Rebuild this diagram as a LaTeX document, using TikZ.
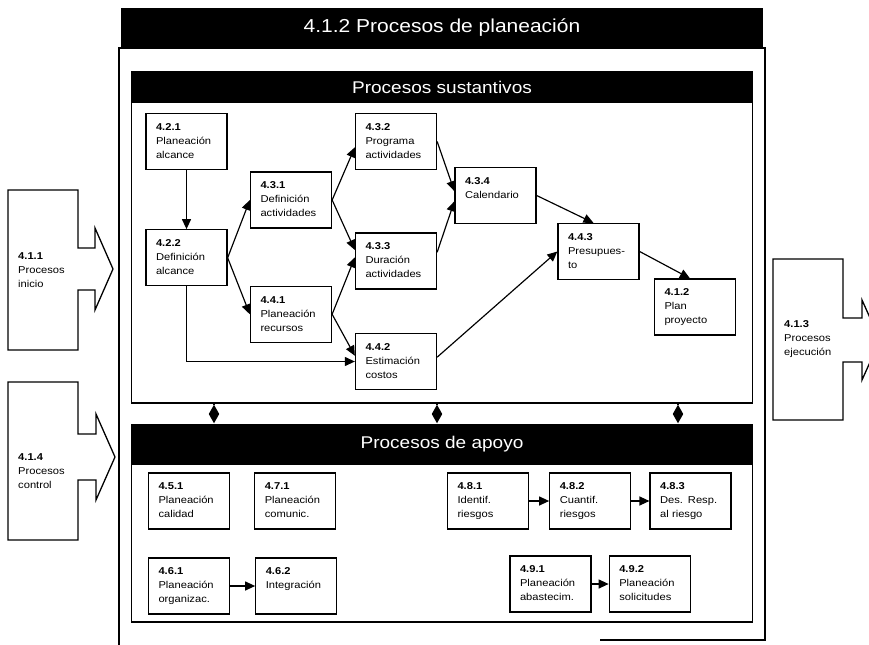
\documentclass[tikz,border=0pt]{standalone}
\usepackage{fontspec}
\setmainfont{Liberation Sans}[FakeStretch=1.12]
\usetikzlibrary{arrows.meta}
\usetikzlibrary{positioning}
\usetikzlibrary{shapes.geometric}

\newcommand{\proclbl}[3]{\strut\textbf{#1}\\\strut #2\\\strut #3}

\begin{document}
\begin{tikzpicture}
    [x=0.3mm,y=-0.3mm,
    proc/.style={rectangle,draw,line width=1.1pt,
      minimum width=24.3mm,minimum height=16.8mm,
      text width=18.3mm,inner xsep=3mm,inner ysep=0pt,
      align=left,font=\fontsize{8.5}{12}\selectfont},
    side/.style={anchor=west,align=left,inner sep=0pt,
      font=\fontsize{8.5}{12}\selectfont},
    group/.style={rectangle,draw,line width=1.1pt,inner sep=0pt,
      minimum width=186.3mm},
    header/.style={rectangle,fill=black,text=white,inner sep=0pt,
      minimum width=186.3mm,font=\fontsize{14.5}{17}\selectfont},
    flow/.style={-{Triangle[length=3mm,width=2.7mm]},line width=1pt},
    link/.style={line width=1pt},
    frame/.style={line width=1.1pt},
    bigarrow/.style={draw,line width=1.1pt,line join=miter},
    diam/.style={diamond,fill=black,inner sep=0pt,
      minimum width=3.2mm,minimum height=5.6mm}]

    \useasboundingbox (0,0) rectangle (869,645);
    \clip (0,0) rectangle (869,645);

    % outer frame and title
    \draw[frame] (119,645) -- (119,48) -- (765,48) -- (765,640) -- (600,640);
    \node[fill=black,text=white,inner sep=0pt,minimum width=192.6mm,
      minimum height=12mm,font=\fontsize{16}{19}\selectfont]
      (title) at (442,28) {4.1.2 Procesos de planeación};

    % groups
    \node[group,minimum height=99.3mm] (sust) at (442,237.5) {};
    \node[header,minimum height=9.3mm] (susthead) [below=0pt of sust.north]
      {Procesos sustantivos};
    \node[group,minimum height=59.1mm] (apo) at (442,523.5) {};
    \node[header,minimum height=12mm] (apohead) [below=0pt of apo.north]
      {Procesos de apoyo};

    % procesos sustantivos
    \node[proc] (palc) at (186.5,141.5)         {\proclbl{4.2.1}{Planeación}{alcance}};
    \node[proc] (dalc) [below=17.7mm of palc]   {\proclbl{4.2.2}{Definición}{alcance}};
    \node[proc] (dact) at (291,200)             {\proclbl{4.3.1}{Definición}{actividades}};
    \node[proc] (prec) [below=17.1mm of dact]   {\proclbl{4.4.1}{Planeación}{recursos}};
    \node[proc] (pact) at (396,141.5)           {\proclbl{4.3.2}{Programa}{actividades}};
    \node[proc] (durac) at (396,261)            {\proclbl{4.3.3}{Duración}{actividades}};
    \node[proc] (estc) at (396,361.5)           {\proclbl{4.4.2}{Estimación}{costos}};
    \node[proc] (cal) at (495.5,195.5)          {\proclbl{4.3.4}{Calendario}{}};
    \node[proc] (pres) at (598.5,251.5)         {\proclbl{4.4.3}{Presupues-}{to}};
    \node[proc] (plan) at (695,307)             {\proclbl{4.1.2}{Plan}{proyecto}};

    \draw[flow] (palc) -- (dalc);
    \draw[flow] (dalc.east) -- (dact.west);
    \draw[flow] (dalc.east) -- (prec.west);
    \draw[flow] (dalc.south) |- (estc.west);
    \draw[flow] (dact.east) -- (pact.188);
    \draw[flow] (dact.east) -- (durac.165);
    \draw[flow] (prec.east) -- (durac.175);
    \draw[flow] (prec.east) -- (estc.172);
    \draw[flow] (pact.east) -- (cal.174);
    \draw[flow] (durac.12) -- (cal.188);
    \draw[flow] (cal.east) -- (pres.100);
    \draw[flow] (estc.6) -- (pres.west);
    \draw[flow] (pres.east) -- (plan.100);

    % procesos de apoyo
    \node[proc] (pcal) at (189,501)             {\proclbl{4.5.1}{Planeación}{calidad}};
    \node[proc] (pcom) [right=7.2mm of pcal]    {\proclbl{4.7.1}{Planeación}{comunic.}};
    \node[proc] (porg) at (189,586)             {\proclbl{4.6.1}{Planeación}{organizac.}};
    \node[proc] (integ) [right=7.5mm of porg]   {\proclbl{4.6.2}{Integración}{}};
    \node[proc] (iries) at (488,501)            {\proclbl{4.8.1}{Identif.}{riesgos}};
    \node[proc] (cries) [right=6mm of iries]    {\proclbl{4.8.2}{Cuantif.}{riesgos}};
    \node[proc] (dres) [right=5.4mm of cries]   {\proclbl{4.8.3}{Des. Resp.}{al riesgo}};
    \node[proc] (pabas) at (550.5,584)          {\proclbl{4.9.1}{Planeación}{abastecim.}};
    \node[proc] (psol) [right=5.1mm of pabas]   {\proclbl{4.9.2}{Planeación}{solicitudes}};

    \draw[flow] (porg) -- (integ);
    \draw[flow] (iries) -- (cries);
    \draw[flow] (cries) -- (dres);
    \draw[flow] (pabas) -- (psol);

    % links between groups
    \node[diam] (dm1) at (214,414) {};
    \node[diam] (dm2) at (437,414) {};
    \node[diam] (dm3) at (678,414) {};
    \draw[link] (sust.south -| dm1) -- (dm1) -- (apohead.north -| dm1);
    \draw[link] (sust.south -| dm2) -- (dm2) -- (apohead.north -| dm2);
    \draw[link] (sust.south -| dm3) -- (dm3) -- (apohead.north -| dm3);

    % neighbouring processes
    \draw[bigarrow] (78,248) -- (78,190) -- (8,190) -- (8,350) -- (78,350)
      -- (78,290) -- (95,290) -- (95,310) -- (113,269) -- (95,228) -- (95,248) -- cycle;
    \node[side] (inicio) at (18,271) {\proclbl{4.1.1}{Procesos}{inicio}};

    \draw[bigarrow] (78,434) -- (78,382) -- (8,382) -- (8,540) -- (78,540)
      -- (78,480) -- (96,480) -- (96,500) -- (115,457) -- (96,414) -- (96,434) -- cycle;
    \node[side] (control) at (18,472) {\proclbl{4.1.4}{Procesos}{control}};

    \draw[bigarrow] (843,318) -- (843,259) -- (773,259) -- (773,420) -- (843,420)
      -- (843,362) -- (862,362) -- (862,380) -- (880,340) -- (862,300) -- (862,318) -- cycle;
    \node[side] (ejec) at (784,339) {\proclbl{4.1.3}{Procesos}{ejecución}};

  \end{tikzpicture}
\end{document}
